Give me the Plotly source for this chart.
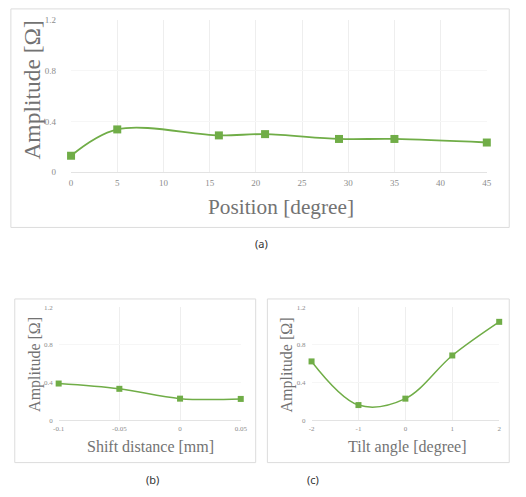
import plotly.graph_objects as go

W, H = 526, 497

# Data
pos_deg = [0, 5, 16, 21, 29, 35, 45]
amp_pos = [0.13, 0.337, 0.29, 0.30, 0.262, 0.262, 0.234]

shift_mm = [-0.1, -0.05, 0, 0.05]
amp_shift = [0.391, 0.335, 0.231, 0.228]

tilt_deg = [-2, -1, 0, 1, 2]
amp_tilt = [0.625, 0.163, 0.231, 0.688, 1.044]

y_ticks = [0, 0.4, 0.8, 1.2]
y_ticklabels = ["0", "0.4", "0.8", "1.2"]
shift_ticks = [-0.1, -0.05, 0, 0.05]
shift_ticklabels = ["-0.1", "-0.05", "0", "0.05"]
tilt_ticks = [-2, -1, 0, 1, 2]
tilt_ticklabels = ["-2", "-1", "0", "1", "2"]

GREEN = "#70AD47"
SERIF = "Liberation Serif"
TITLE_C = "#737373"
TICK_C = "#8c8c8c"
GRID_C = "#eeeeee"

def px(x):
    return x / W

def py(y):
    return 1 - y / H

fig = go.Figure()

fig.add_trace(go.Scatter(x=pos_deg, y=amp_pos, mode="lines+markers",
                         line=dict(color=GREEN, width=1.8, shape="spline", smoothing=1),
                         marker=dict(symbol="square", size=8, color=GREEN),
                         xaxis="x", yaxis="y", cliponaxis=False, showlegend=False))
fig.add_trace(go.Scatter(x=shift_mm, y=amp_shift, mode="lines+markers",
                         line=dict(color=GREEN, width=1.5, shape="spline", smoothing=1),
                         marker=dict(symbol="square", size=6, color=GREEN),
                         xaxis="x2", yaxis="y2", cliponaxis=False, showlegend=False))
fig.add_trace(go.Scatter(x=tilt_deg, y=amp_tilt, mode="lines+markers",
                         line=dict(color=GREEN, width=1.5, shape="spline", smoothing=1),
                         marker=dict(symbol="square", size=6, color=GREEN),
                         xaxis="x3", yaxis="y3", cliponaxis=False, showlegend=False))

common_x = dict(showgrid=True, gridcolor=GRID_C, gridwidth=1, zeroline=False,
                showline=True, linecolor="#e3e3e3", linewidth=1, ticks="",
                fixedrange=True)
common_y = dict(showgrid=True, gridcolor="#f6f6f6", gridwidth=1, zeroline=False,
                showline=False, ticks="", range=[0, 1.2],
                tickvals=y_ticks, ticktext=y_ticklabels, fixedrange=True)

fig.update_layout(
    width=W, height=H,
    margin=dict(l=0, r=0, t=0, b=0),
    paper_bgcolor="white", plot_bgcolor="white",
    xaxis=dict(common_x, domain=[px(66.7), px(493)], range=[0, 45], dtick=5,
               tick0=0, anchor="y", ticklabelstandoff=2,
               tickfont=dict(family=SERIF, size=9, color=TICK_C)),
    yaxis=dict(common_y, domain=[py(170.7), py(15)], anchor="x",
               ticklabelstandoff=14,
               tickfont=dict(family=SERIF, size=9, color=TICK_C)),
    xaxis2=dict(common_x, domain=[px(54), px(240.7)], range=[-0.1, 0.05],
                tickvals=shift_ticks, ticktext=shift_ticklabels, anchor="y2",
                ticklabelstandoff=1,
                tickfont=dict(family=SERIF, size=7, color=TICK_C)),
    yaxis2=dict(common_y, domain=[py(424), py(308.3)], anchor="x2",
                ticklabelstandoff=5,
                tickfont=dict(family=SERIF, size=7, color=TICK_C)),
    xaxis3=dict(common_x, domain=[px(313.3), px(505.7)], range=[-2, 2],
                tickvals=tilt_ticks, ticktext=tilt_ticklabels, anchor="y3",
                ticklabelstandoff=1,
                tickfont=dict(family=SERIF, size=7, color=TICK_C)),
    yaxis3=dict(common_y, domain=[py(424), py(308.3)], anchor="x3",
                ticklabelstandoff=5,
                tickfont=dict(family=SERIF, size=7, color=TICK_C)),
)

# chart-area borders
for (x0, y0, x1, y1) in [(5, 4, 516, 227), (9, 300, 256, 467), (268, 300, 516, 467)]:
    fig.add_shape(type="rect", xref="paper", yref="paper",
                  x0=px(x0), x1=px(x1), y0=py(y1), y1=py(y0),
                  line=dict(color="#dcdcdc", width=1), fillcolor="rgba(0,0,0,0)",
                  layer="below")

def ann(text, x, y, size, color, family, angle=0):
    fig.add_annotation(text=text, x=px(x), y=py(y), xref="paper", yref="paper",
                       showarrow=False, textangle=angle, xanchor="center",
                       yanchor="middle", font=dict(family=family, size=size, color=color))

# axis titles
ann("Amplitude [Ω]", 27, 86, 23.5, TITLE_C, SERIF, -90)
ann("Position [degree]", 282, 206, 21.3, TITLE_C, SERIF)
ann("Amplitude [Ω]", 29, 367, 16, TITLE_C, SERIF, -90)
ann("Shift distance [mm]", 148, 451, 16, TITLE_C, SERIF)
ann("Amplitude [Ω]", 288, 367, 16, TITLE_C, SERIF, -90)
ann("Tilt angle [degree]", 410.7, 451, 16, TITLE_C, SERIF)

# captions
SANS = "Noto Sans"
ann("(a)", 262, 243, 11, "#333333", SANS)
ann("(b)", 150, 484, 11, "#333333", SANS)
ann("(c)", 315, 484, 11, "#333333", SANS)

fig.write_html("out.html", config={"displayModeBar": False},
               post_script="document.body.style.margin='0px';")
